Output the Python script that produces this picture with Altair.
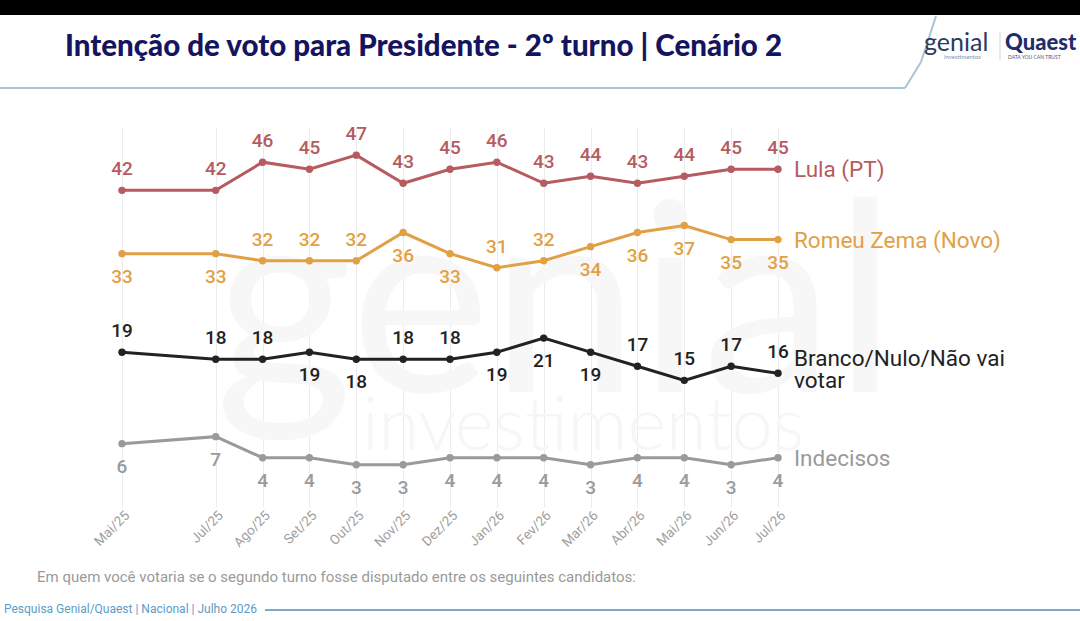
import altair as alt
import pandas as pd

# ---- survey rounds (months since May/2025) and their tick labels ----
month_index = [0, 2, 3, 4, 5, 6, 7, 8, 9, 10, 11, 12, 13, 14]
month_labels = ["Mai/25", "Jun/25", "Jul/25", "Ago/25", "Set/25", "Out/25", "Nov/25",
                "Dez/25", "Jan/26", "Fev/26", "Mar/26", "Abr/26", "Mai/26", "Jun/26", "Jul/26"]

# ---- vote intention (%) ----
lula = [42, 42, 46, 45, 47, 43, 45, 46, 43, 44, 43, 44, 45, 45]
zema = [33, 33, 32, 32, 32, 36, 33, 31, 32, 34, 36, 37, 35, 35]
branco = [19, 18, 18, 19, 18, 18, 18, 19, 21, 19, 17, 15, 17, 16]
indecisos = [6, 7, 4, 4, 3, 3, 4, 4, 4, 3, 4, 4, 3, 4]

series_names = ["Lula (PT)", "Romeu Zema (Novo)", "Branco/Nulo/Não vai votar", "Indecisos"]
series_values = [lula, zema, branco, indecisos]
series_colors = ["#b65b5f", "#e2a044", "#222222", "#9a9a9a"]
label_colors = ["#b3575b", "#d9a04f", "#1e1e1e", "#9a9a9a"]
end_labels = [["Lula (PT)"], ["Romeu Zema (Novo)"], ["Branco/Nulo/Não vai", "votar"], ["Indecisos"]]

# where each value label sits relative to its point
label_side = {
    "Lula (PT)": ["up"] * 14,
    "Romeu Zema (Novo)": ["down", "down", "up", "up", "up", "down", "down",
                          "up", "up", "down", "down", "down", "down", "down"],
    "Branco/Nulo/Não vai votar": ["up", "up", "up", "down", "down", "up", "up",
                                  "down", "down", "down", "up", "up", "up", "up"],
    "Indecisos": ["down"] * 14,
}

rows = []
for name, vals in zip(series_names, series_values):
    for m, v, s in zip(month_index, vals, label_side[name]):
        rows.append({"serie": name, "mes": m, "valor": v, "lado": s})
df = pd.DataFrame(rows)

ends = pd.DataFrame({
    "serie": series_names,
    "mes": [month_index[-1]] * 4,
    "valor": [v[-1] for v in series_values],
    "rotulo": end_labels,
    "linhas": [len(t) for t in end_labels],
})

W, H = 656, 380
PAD_L, PAD_T = 122, 127
label_js = "[" + ",".join("'" + s + "'" for s in month_labels) + "]"

x_scale = alt.Scale(domain=[0, 14], nice=False, zero=False)
y_scale = alt.Scale(domain=[-3, 51], nice=False, zero=False)
color_scale = alt.Scale(domain=series_names, range=series_colors)
label_scale = alt.Scale(domain=series_names, range=label_colors)

x_enc = alt.X("mes:Q", scale=x_scale,
              axis=alt.Axis(values=month_index, labelExpr=label_js + "[datum.value]",
                            labelAngle=-45, labelAlign="right", labelBaseline="top",
                            labelColor="#a0a0a0", labelFontSize=13.5, labelFont="Roboto",
                            labelPadding=1, domain=False, ticks=False, grid=True,
                            gridColor="#ececec", gridWidth=1, title=None))
y_enc = alt.Y("valor:Q", scale=y_scale, axis=None)

base = alt.Chart(df)

# faint brand watermark behind the lines
one = pd.DataFrame({"k": [0]})
wm1 = alt.Chart(one).mark_text(text="genial", font="Lato", fontSize=265, fontWeight=400,
                               color="#f7f7f7", align="left", baseline="alphabetic").encode(
    x=alt.value(215 - PAD_L), y=alt.value(392 - PAD_T))
wm2 = alt.Chart(one).mark_text(text="investimentos", font="Lato", fontSize=74, fontWeight=300,
                               color="#f6f6f6", align="left", baseline="alphabetic").encode(
    x=alt.value(362 - PAD_L), y=alt.value(450 - PAD_T))

lines = base.mark_line(strokeWidth=3).encode(
    x=x_enc, y=y_enc,
    color=alt.Color("serie:N", scale=color_scale, legend=None),
    detail="serie:N")
points = base.mark_circle(size=55, opacity=1).encode(
    x="mes:Q", y="valor:Q",
    color=alt.Color("serie:N", scale=color_scale, legend=None))

lbl_common = dict(font="Roboto", fontSize=19, fontWeight=500)
labels_up = base.transform_filter(alt.datum.lado == "up").mark_text(
    dy=-21, baseline="middle", **lbl_common).encode(
    x="mes:Q", y="valor:Q", text="valor:Q",
    color=alt.Color("serie:N", scale=label_scale, legend=None))
labels_down = base.transform_filter(alt.datum.lado == "down").mark_text(
    dy=23, baseline="middle", **lbl_common).encode(
    x="mes:Q", y="valor:Q", text="valor:Q",
    color=alt.Color("serie:N", scale=label_scale, legend=None))

end_common = dict(align="left", baseline="middle", dx=16, font="Roboto", fontSize=22.5,
                  lineHeight=22)
end_single = alt.Chart(ends).transform_filter(alt.datum.linhas == 1).mark_text(
    dy=1, **end_common).encode(
    x="mes:Q", y="valor:Q", text="rotulo",
    color=alt.Color("serie:N", scale=color_scale, legend=None))
end_multi = alt.Chart(ends).transform_filter(alt.datum.linhas > 1).mark_text(
    dy=-14, **end_common).encode(
    x="mes:Q", y="valor:Q", text="rotulo",
    color=alt.Color("serie:N", scale=color_scale, legend=None))

# header / footer decorations
top_bar = alt.Chart(one).mark_rect(color="#000000").encode(
    x=alt.value(-PAD_L), x2=alt.value(1080 - PAD_L),
    y=alt.value(-PAD_T), y2=alt.value(15 - PAD_T))
title = alt.Chart(one).mark_text(
    text="Intenção de voto para Presidente - 2º turno | Cenário 2",
    font="Lato", fontSize=29.5, fontWeight=900, color="#15145f",
    align="left", baseline="alphabetic").encode(
    x=alt.value(65 - PAD_L), y=alt.value(56 - PAD_T))
head_line = alt.Chart(one).mark_rule(color="#a9c4d4", strokeWidth=2).encode(
    x=alt.value(-PAD_L), x2=alt.value(905 - PAD_L),
    y=alt.value(88 - PAD_T), y2=alt.value(88 - PAD_T))
head_curve1 = alt.Chart(one).mark_rule(color="#a9c4d4", strokeWidth=2).encode(
    x=alt.value(905 - PAD_L), x2=alt.value(921 - PAD_L),
    y=alt.value(88 - PAD_T), y2=alt.value(62 - PAD_T))
head_curve2 = alt.Chart(one).mark_rule(color="#a9c4d4", strokeWidth=2).encode(
    x=alt.value(921 - PAD_L), x2=alt.value(936 - PAD_L),
    y=alt.value(62 - PAD_T), y2=alt.value(16 - PAD_T))

logo_genial = alt.Chart(one).mark_text(
    text="genial", font="Lato", fontSize=25, color="#2c3a5e",
    align="left", baseline="alphabetic").encode(
    x=alt.value(924 - PAD_L), y=alt.value(51 - PAD_T))
logo_genial_sub = alt.Chart(one).mark_text(
    text="investimentos", font="Lato", fontSize=6, color="#8a93a8",
    align="left", baseline="alphabetic").encode(
    x=alt.value(944 - PAD_L), y=alt.value(59 - PAD_T))
logo_sep = alt.Chart(one).mark_rule(color="#cfd3dc", strokeWidth=1).encode(
    x=alt.value(1000 - PAD_L), x2=alt.value(1000 - PAD_L),
    y=alt.value(32 - PAD_T), y2=alt.value(60 - PAD_T))
logo_quaest = alt.Chart(one).mark_text(
    text="Quaest", font="Lato", fontSize=22, fontWeight=900, color="#1f2d6b",
    align="left", baseline="alphabetic").encode(
    x=alt.value(1005 - PAD_L), y=alt.value(50 - PAD_T))
logo_quaest_sub = alt.Chart(one).mark_text(
    text="DATA YOU CAN TRUST", font="Lato", fontSize=5, color="#4a5680",
    align="left", baseline="alphabetic").encode(
    x=alt.value(1008 - PAD_L), y=alt.value(59 - PAD_T))

question = alt.Chart(one).mark_text(
    text="Em quem você votaria se o segundo turno fosse disputado entre os seguintes candidatos:",
    font="Roboto", fontSize=15, color="#9a9a9a",
    align="left", baseline="middle").encode(
    x=alt.value(37 - PAD_L), y=alt.value(577 - PAD_T))
source = alt.Chart(one).mark_text(
    text="Pesquisa Genial/Quaest | Nacional | Julho 2026",
    font="Roboto", fontSize=12, color="#5d9cc6",
    align="left", baseline="middle").encode(
    x=alt.value(4 - PAD_L), y=alt.value(609 - PAD_T))
source_line = alt.Chart(one).mark_rule(color="#7fa9c8", strokeWidth=2).encode(
    x=alt.value(265 - PAD_L), x2=alt.value(1080 - PAD_L),
    y=alt.value(610 - PAD_T), y2=alt.value(610 - PAD_T))

chart = alt.layer(
    wm1, wm2, lines, points, labels_up, labels_down, end_single, end_multi,
    top_bar, title, head_line, head_curve1, head_curve2,
    logo_genial, logo_genial_sub, logo_sep, logo_quaest, logo_quaest_sub,
    question, source, source_line,
).properties(
    width=W, height=H,
    autosize=alt.AutoSizeParams(type="none"),
    padding={"left": PAD_L, "top": PAD_T, "right": 1080 - PAD_L - W, "bottom": 621 - PAD_T - H},
    background="#ffffff",
).configure_view(stroke=None, clip=False)

chart.save("out.html", embed_options={"renderer": "svg", "actions": False})
